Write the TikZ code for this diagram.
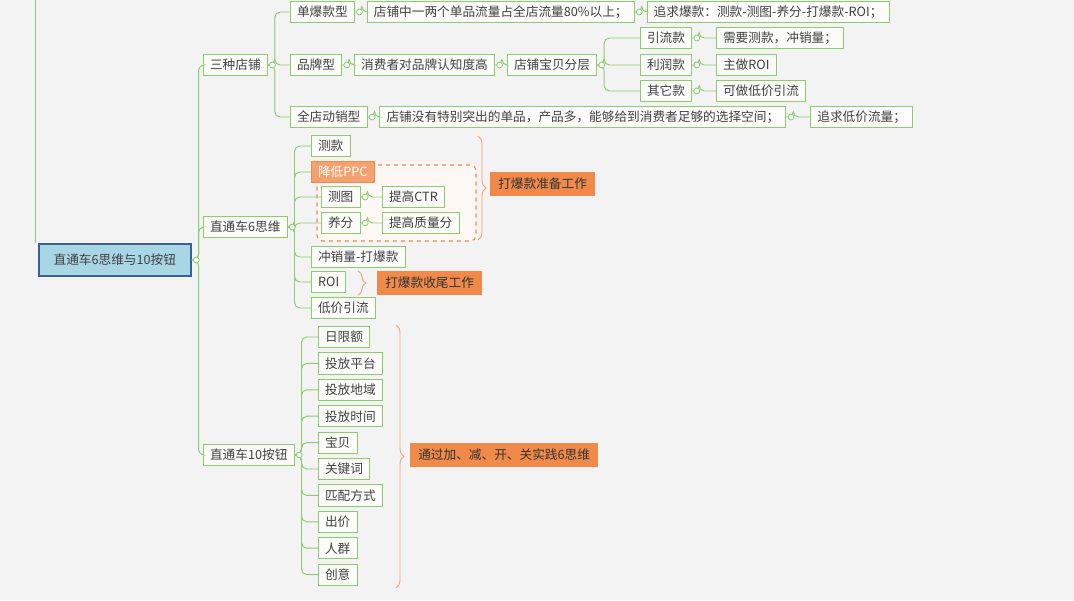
\documentclass[tikz,border=0pt]{standalone}
\usepackage{fontspec}
\setmainfont{Noto Sans CJK SC}
\usetikzlibrary{decorations.pathreplacing, positioning}
\definecolor{leafgreen}{HTML}{8CCB6E}
\definecolor{bgpaper}{HTML}{F3F3F3}
\definecolor{rootblue}{HTML}{A9D6E5}
\definecolor{rootline}{HTML}{3B5E96}
\definecolor{tagorange}{HTML}{F08A4B}
\begin{document}
\begin{tikzpicture}[x=0.75pt, y=-0.75pt,
  every node/.style={font=\fontsize{9.5}{11}\selectfont, text=black!75},
  leaf/.style={draw=leafgreen, fill=white!97!leafgreen, line width=0.6pt, anchor=west,
    minimum height=16pt, inner xsep=5pt, inner ysep=1pt},
  rootbox/.style={draw=rootline, fill=rootblue, line width=1.2pt, anchor=west,
    minimum height=24pt, minimum width=114pt},
  tag/.style={fill=tagorange, text=black!80, anchor=west, minimum height=18pt, inner xsep=6pt},
  link/.style={draw=leafgreen, line width=0.7pt, rounded corners=4pt},
  bracer/.style={draw=tagorange!80, line width=0.7pt, decorate,
    decoration={brace, amplitude=6pt}}]
\useasboundingbox[fill=bgpaper] (0,0) rectangle (1074,600);

\node[rootbox] (root) at (38,260) {直通车6思维与10按钮};
\draw[link] (root.north west) ++(-3,0) -- (35,0);

% three kinds of shop
\node[leaf] (shop) at (203,65) {三种店铺};
\node[leaf] (single) at (290,12) {单爆款型};
\node[leaf, right=9pt of single] (singleA) {店铺中一两个单品流量占全店流量80\%以上；};
\node[leaf, right=9pt of singleA] (singleB) {追求爆款：测款-测图-养分-打爆款-ROI；};
\node[leaf] (brand) at (290,65) {品牌型};
\node[leaf, right=9pt of brand] (brandA) {消费者对品牌认知度高};
\node[leaf, right=9pt of brandA] (brandB) {店铺宝贝分层};
\node[leaf] (draw1) at (640,38) {引流款};
\node[leaf] (draw1a) at (716,38) {需要测款，冲销量；};
\node[leaf] (profit) at (640,65) {利润款};
\node[leaf] (profita) at (716,65) {主做ROI};
\node[leaf] (other) at (640,91) {其它款};
\node[leaf] (othera) at (716,91) {可做低价引流};
\node[leaf] (whole) at (290,117) {全店动销型};
\node[leaf, right=9pt of whole] (wholeA) {店铺没有特别突出的单品，产品多，能够给到消费者足够的选择空间；};
\node[leaf, right=18pt of wholeA] (wholeB) {追求低价流量；};

% six ideas
\node[leaf] (six) at (203,227) {直通车6思维};
\draw[tagorange, dashed, line width=0.8pt, fill=tagorange!6, rounded corners=4pt]
  (317,165) rectangle (476,241);
\node[leaf] (test) at (311,146) {测款};
\node[leaf, draw=tagorange, fill=tagorange!80, text=white] (ppc) at (311,172) {降低PPC};
\node[leaf] (pic) at (321,197) {测图};
\node[leaf] (ctr) at (382,197) {提高CTR};
\node[leaf] (score) at (321,223) {养分};
\node[leaf] (quality) at (382,223) {提高质量分};
\node[leaf] (push) at (311,257) {冲销量-打爆款};
\node[leaf] (roi) at (311,282) {ROI};
\node[leaf] (low) at (311,308) {低价引流};
\draw[bracer] (478,136) -- (478,240);
\node[tag] (prep) at (490,184) {打爆款准备工作};
\draw[bracer] (358,271) -- (358,295);
\node[tag] (finish) at (377,283) {打爆款收尾工作};

% ten buttons
\node[leaf] (ten) at (203,455) {直通车10按钮};
\foreach \t [count=\i] in {日限额,投放平台,投放地域,投放时间,宝贝,关键词,匹配方式,出价,人群,创意}
  \node[leaf] (btn\i) at (318,337+26.4*\i-26.4) {\t};
\draw[bracer] (396,325) -- (396,588);
\node[tag] (practice) at (410,455) {通过加、减、开、关实践6思维};

% connectors
\foreach \p/\c in {root/shop,root/six,root/ten,shop/single,shop/brand,shop/whole,
    single/singleA,singleA/singleB,brand/brandA,brandA/brandB,brandB/draw1,brandB/profit,
    brandB/other,draw1/draw1a,profit/profita,other/othera,whole/wholeA,wholeA/wholeB,
    six/test,six/ppc,six/pic,six/score,six/push,six/roi,six/low,pic/ctr,score/quality}
  \draw[link] (\p.east) -- ++(7,0) |- (\c.west);
\foreach \i in {1,...,10}
  \draw[link] (ten.east) -- ++(7,0) |- (btn\i.west);
\foreach \p in {root,shop,single,singleA,brand,brandA,brandB,draw1,profit,other,whole,wholeA,six,pic,score,ten}
  \draw[leafgreen, fill=white, line width=0.6pt] ([xshift=3.5pt]\p.east) circle (2.2pt);
\end{tikzpicture}
\end{document}
